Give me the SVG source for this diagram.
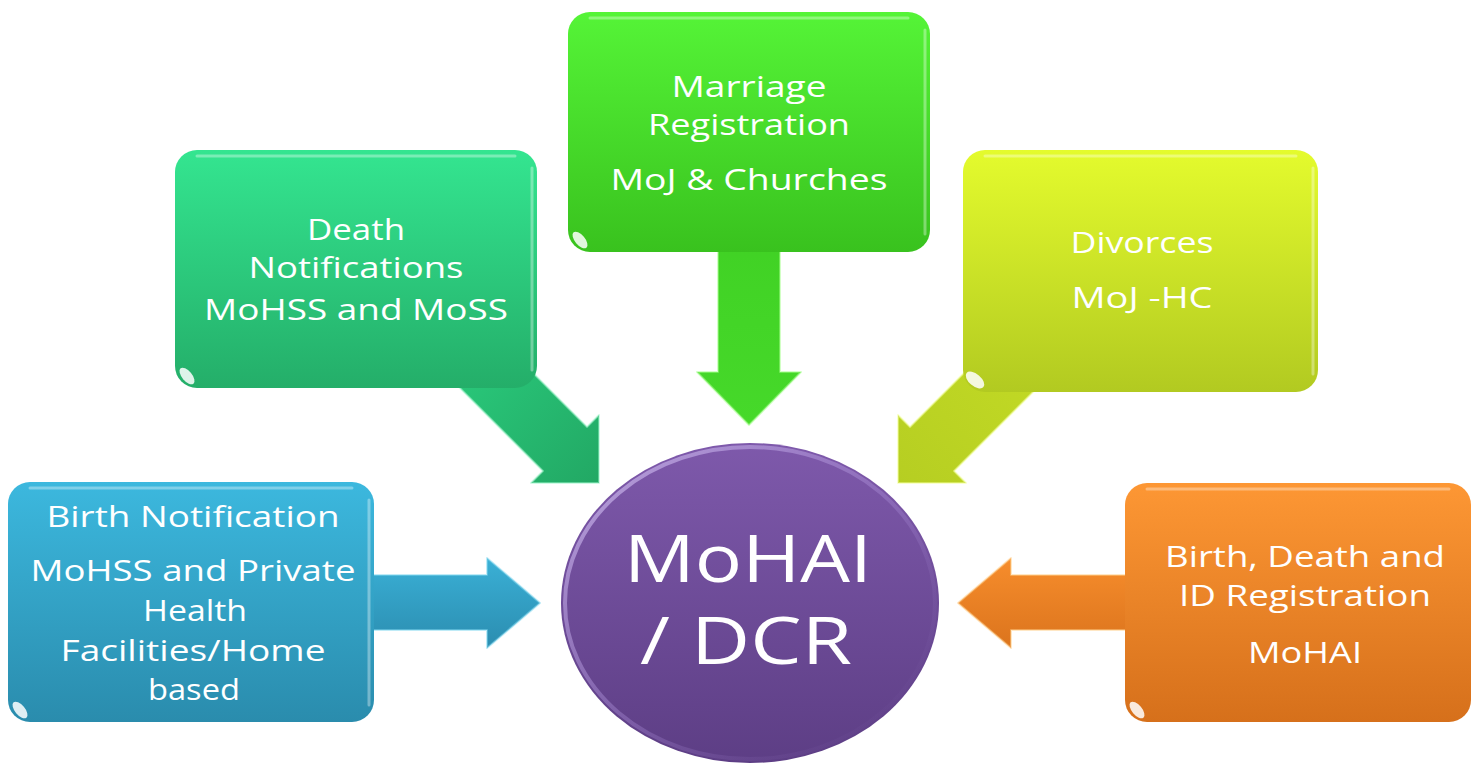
<svg xmlns="http://www.w3.org/2000/svg" width="1474" height="765" viewBox="0 0 1474 765">
  <defs>
    <linearGradient id="gBlue" x1="0" y1="0" x2="0" y2="1">
      <stop offset="0" stop-color="#3cb8de"/>
      <stop offset="1" stop-color="#2a8cad"/>
    </linearGradient>
    <linearGradient id="gTeal" x1="0" y1="0" x2="0" y2="1">
      <stop offset="0" stop-color="#34e590"/>
      <stop offset="1" stop-color="#24ae69"/>
    </linearGradient>
    <linearGradient id="gGreen" x1="0" y1="0" x2="0" y2="1">
      <stop offset="0" stop-color="#55f437"/>
      <stop offset="1" stop-color="#39c21e"/>
    </linearGradient>
    <linearGradient id="gYellow" x1="0" y1="0" x2="0" y2="1">
      <stop offset="0" stop-color="#e4fb2d"/>
      <stop offset="1" stop-color="#b2ca21"/>
    </linearGradient>
    <linearGradient id="gOrange" x1="0" y1="0" x2="0" y2="1">
      <stop offset="0" stop-color="#fd9734"/>
      <stop offset="1" stop-color="#d6701b"/>
    </linearGradient>
    <linearGradient id="gPurple" x1="0" y1="0" x2="0" y2="1">
      <stop offset="0" stop-color="#7e59ab"/>
      <stop offset="1" stop-color="#5d3e85"/>
    </linearGradient>
    <linearGradient id="rimPurple" x1="0" y1="0" x2="1" y2="1">
      <stop offset="0" stop-color="#d2c0f0" stop-opacity="0.8"/>
      <stop offset="0.55" stop-color="#a88ad6" stop-opacity="0.35"/>
      <stop offset="1" stop-color="#5d3e85" stop-opacity="0"/>
    </linearGradient>
    <linearGradient id="aBlue" x1="0" y1="0" x2="0" y2="1">
      <stop offset="0" stop-color="#3ab0d6"/>
      <stop offset="1" stop-color="#2b8db0"/>
    </linearGradient>
    <linearGradient id="aTeal" x1="0" y1="0" x2="1" y2="1">
      <stop offset="0" stop-color="#2bcf7f"/>
      <stop offset="1" stop-color="#22a864"/>
    </linearGradient>
    <linearGradient id="aGreen" x1="0" y1="0" x2="0" y2="1">
      <stop offset="0" stop-color="#40d124"/>
      <stop offset="1" stop-color="#46d92a"/>
    </linearGradient>
    <linearGradient id="aYellow" x1="1" y1="0" x2="0" y2="1">
      <stop offset="0" stop-color="#c4dc25"/>
      <stop offset="1" stop-color="#b6ce22"/>
    </linearGradient>
    <linearGradient id="aOrange" x1="0" y1="0" x2="0" y2="1">
      <stop offset="0" stop-color="#f78d2c"/>
      <stop offset="1" stop-color="#db741d"/>
    </linearGradient>
    <style>
      .lbl { font-family: "Open Sans", "Liberation Sans", sans-serif; font-size: 30px; fill: #ffffff; text-anchor: middle; }
      .big { font-family: "Open Sans", "Liberation Sans", sans-serif; font-size: 66px; fill: #ffffff; text-anchor: middle; }
      .hl { fill: none; stroke: #ffffff; stroke-opacity: 0.35; stroke-width: 3; stroke-linecap: round; }
      .gloss { fill: #ffffff; fill-opacity: 0.85; }
      .arrow { stroke-width: 2; stroke-opacity: 0.5; stroke-linejoin: round; }
    </style>
  </defs>

  <g id="connectors">
    <polygon class="arrow" fill="url(#aBlue)" stroke="#7fd8f0" points="340,575 487,575 487,558 540,603 487,648 487,630 340,630"/>
    <polygon class="arrow" fill="url(#aOrange)" stroke="#ffd08a" points="1160,575 1011,575 1011,558 958,603 1011,648 1011,630 1160,630"/>
    <polygon class="arrow" fill="url(#aGreen)" stroke="#a6ff8c" points="718,220 780,220 780,372 801,372 749,425 697,372 718,372"/>
    <polygon class="arrow" fill="url(#aTeal)" stroke="#9ff5cb" points="487,327 587,427 599,415 599,483 531,483 543,471 443,371"/>
    <polygon class="arrow" fill="url(#aYellow)" stroke="#f4ff9a" points="1010,327 910,427 898,415 898,483 966,483 954,471 1054,371"/>
  </g>

  <g id="node-birth-notification">
    <rect x="8" y="482" width="366" height="240" rx="22" fill="url(#gBlue)"/>
    <path class="hl" d="M30,488 H352"/>
    <path class="hl" d="M369,500 V705"/>
    <ellipse class="gloss" cx="20" cy="710" rx="10" ry="5" transform="rotate(50 20 710)"/>
    <text class="lbl" x="193" y="527" textLength="293" lengthAdjust="spacingAndGlyphs">Birth Notification</text>
    <text class="lbl" x="193" y="581" textLength="325" lengthAdjust="spacingAndGlyphs">MoHSS and Private</text>
    <text class="lbl" x="195" y="621" textLength="104" lengthAdjust="spacingAndGlyphs">Health</text>
    <text class="lbl" x="193" y="661" textLength="265" lengthAdjust="spacingAndGlyphs">Facilities/Home</text>
    <text class="lbl" x="194" y="700" textLength="92" lengthAdjust="spacingAndGlyphs">based</text>
  </g>

  <g id="node-death-notifications">
    <rect x="175" y="150" width="362" height="238" rx="22" fill="url(#gTeal)"/>
    <path class="hl" d="M197,156 H515"/>
    <path class="hl" d="M532,168 V370"/>
    <ellipse class="gloss" cx="187" cy="376" rx="10" ry="5" transform="rotate(50 187 376)"/>
    <text class="lbl" x="356" y="240" textLength="98" lengthAdjust="spacingAndGlyphs">Death</text>
    <text class="lbl" x="356" y="278" textLength="215" lengthAdjust="spacingAndGlyphs">Notifications</text>
    <text class="lbl" x="356" y="320" textLength="304" lengthAdjust="spacingAndGlyphs">MoHSS and MoSS</text>
  </g>

  <g id="node-marriage-registration">
    <rect x="568" y="12" width="362" height="240" rx="22" fill="url(#gGreen)"/>
    <path class="hl" d="M590,18 H908"/>
    <path class="hl" d="M925,30 V234"/>
    <ellipse class="gloss" cx="580" cy="240" rx="10" ry="5" transform="rotate(50 580 240)"/>
    <text class="lbl" x="749" y="97" textLength="155" lengthAdjust="spacingAndGlyphs">Marriage</text>
    <text class="lbl" x="749" y="135" textLength="202" lengthAdjust="spacingAndGlyphs">Registration</text>
    <text class="lbl" x="749" y="190" textLength="277" lengthAdjust="spacingAndGlyphs">MoJ &amp; Churches</text>
  </g>

  <g id="node-divorces">
    <rect x="963" y="150" width="355" height="242" rx="22" fill="url(#gYellow)"/>
    <path class="hl" d="M985,156 H1296"/>
    <path class="hl" d="M1313,168 V374"/>
    <ellipse class="gloss" cx="975" cy="380" rx="11" ry="6" transform="rotate(40 975 380)"/>
    <text class="lbl" x="1142" y="253" textLength="143" lengthAdjust="spacingAndGlyphs">Divorces</text>
    <text class="lbl" x="1142" y="308" textLength="141" lengthAdjust="spacingAndGlyphs">MoJ -HC</text>
  </g>

  <g id="node-registration-mohai">
    <rect x="1125" y="483" width="346" height="239" rx="22" fill="url(#gOrange)"/>
    <path class="hl" d="M1147,489 H1449"/>
    <ellipse class="gloss" cx="1137" cy="710" rx="10" ry="5" transform="rotate(50 1137 710)"/>
    <text class="lbl" x="1305" y="567" textLength="280" lengthAdjust="spacingAndGlyphs">Birth, Death and</text>
    <text class="lbl" x="1305" y="606" textLength="252" lengthAdjust="spacingAndGlyphs">ID Registration</text>
    <text class="lbl" x="1305" y="663" textLength="114" lengthAdjust="spacingAndGlyphs">MoHAI</text>
  </g>

  <g id="node-mohai-dcr">
    <ellipse cx="750" cy="603" rx="189" ry="160" fill="url(#gPurple)"/>
    <ellipse cx="750" cy="603" rx="185" ry="156" fill="none" stroke="url(#rimPurple)" stroke-width="4"/>
    <text class="big" x="748" y="582" textLength="248" lengthAdjust="spacingAndGlyphs">MoHAI</text>
    <text class="big" x="746" y="664" textLength="212" lengthAdjust="spacingAndGlyphs">/ DCR</text>
  </g>
</svg>
